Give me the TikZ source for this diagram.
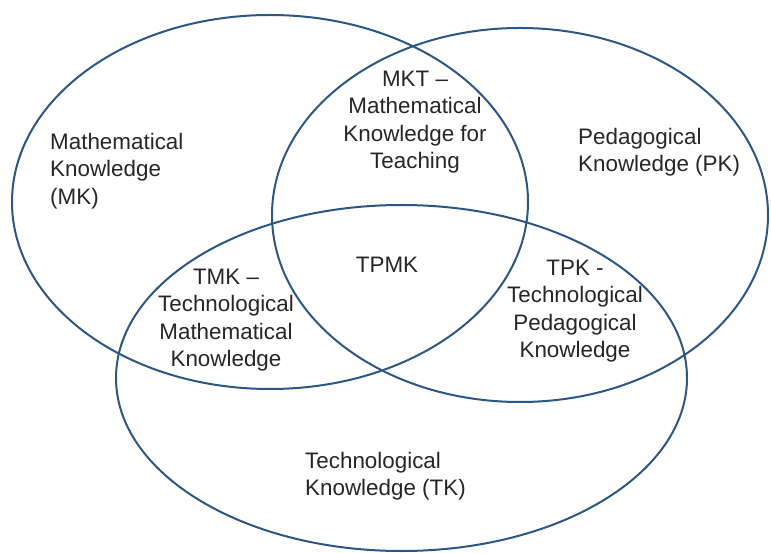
\documentclass[tikz,border=0pt]{standalone}
\usepackage{fontspec}
\setmainfont{Liberation Sans}
\begin{document}
\begin{tikzpicture}[x=1pt,y=-1pt,
  ring/.style={draw=ringblue,line width=2pt},
  lbl/.style={font=\fontsize{22.4}{27.5}\selectfont,text=black!85,inner sep=0pt},
  lblc/.style={lbl,align=center},
  lbll/.style={lbl,align=left,anchor=west}]
\definecolor{ringblue}{HTML}{2C5785}
\useasboundingbox (0,0) rectangle (771,553);
% the three knowledge domains
\draw[ring] (270,202) ellipse [x radius=258,y radius=187];
\draw[ring] (520,215) ellipse [x radius=248,y radius=187];
\draw[ring] (401.5,378) ellipse [x radius=285.5,y radius=173];
% region labels
\node[lbll] (mk) at (50,171) {Mathematical\\Knowledge\\(MK)};
\node[lbll] (pk) at (578,152) {Pedagogical\\Knowledge (PK)};
\node[lbll] (tk) at (305,476) {Technological\\Knowledge (TK)};
\node[lblc] (mkt) at (415,122) {MKT --\\Mathematical\\Knowledge for\\Teaching};
\node[lblc] (tmk) at (226,320) {TMK --\\Technological\\Mathematical\\Knowledge};
\node[lblc] (tpk) at (575,311) {TPK -\\Technological\\Pedagogical\\Knowledge};
\node[lbl] (tpmk) at (387,265) {TPMK};
\end{tikzpicture}
\end{document}
